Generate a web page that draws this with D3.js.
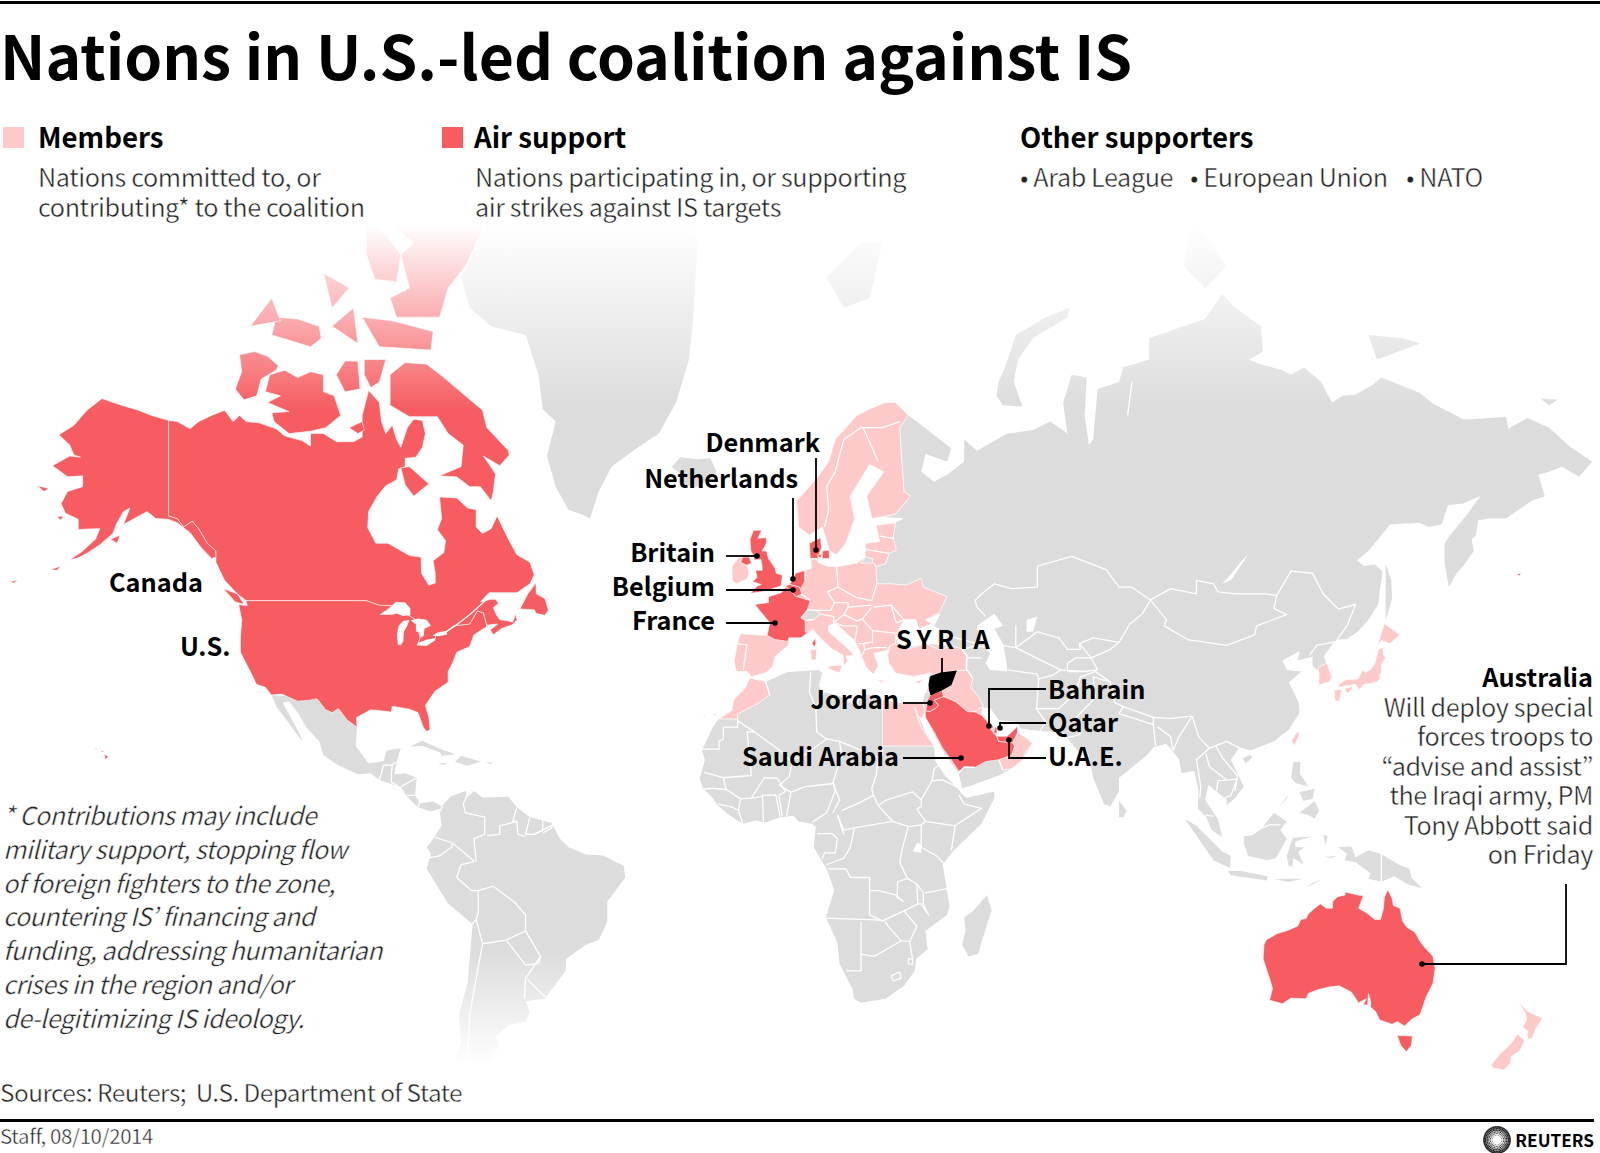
<!DOCTYPE html>
<html>
<head>
<meta charset="utf-8">
<script src="https://cdn.jsdelivr.net/npm/d3@7"></script>
<style>
  html, body { margin: 0; padding: 0; background: #fff; }
  svg { display: block; }
  text { font-family: "Noto Sans CJK JP", "Noto Sans", sans-serif; fill: #000; white-space: pre; }
  .b { font-weight: 700; }
  .l { font-weight: 400; fill: #222; stroke: #fff; stroke-width: 0.45px; }
</style>
</head>
<body>
<div id="chart"></div>
<script>
// outlines are lon/lat, projected below
var greenland = [[-73,78.5],[-66,81],[-55,82.5],[-35,83.5],[-22,82.5],[-18,80],[-19,76.5],[-20,74],[-23,71],[-27,68.5],[-33,67],[-38,65.5],[-41,63],[-43,60],[-45,60.5],[-48,61],[-51,63.5],[-53,66.5],[-51,69.5],[-54,70.5],[-55,73],[-58,75.5],[-66,76],[-71,77]];
var iceland = [[-24,65.5],[-22,66.4],[-18,66.2],[-15,66.3],[-13.6,65],[-15,64.3],[-18.5,63.4],[-22.5,63.9],[-22,64.8]];
var eurasia = [[31,70],[33,69.5],[41,67.2],[40,66],[35,66.7],[34,65],[37,64],[40,64.7],[44,66],[44,68],[47,67],[54,68.5],[60,68.8],[64,69.5],[68,68.5],[67,71],[69,73],[72.5,72.8],[72,70],[73,67.5],[74,68],[75,72],[80,72.5],[81,73.5],[87,74],[87,75.3],[95,76],[100,76.4],[104,77.7],[107,77],[113,76],[113.5,74.5],[109,73.8],[110,74],[113,73.7],[118,73.3],[120,73],[123,73.5],[127,72.5],[129.5,71],[132,71.5],[135,71.6],[139,72.3],[141,72.8],[150,71.7],[153,70.9],[160,69.7],[162,69.7],[170,69.9],[170.5,68.9],[175,69.8],[180,69],[185,67.3],[190,66],[187,64.5],[183,65.5],[180,65],[177.5,64.7],[179,62.5],[176,62],[172,60.7],[170,60],[166,60],[163.5,59.8],[163,58],[162,57.5],[162.5,56],[160,54],[158.5,53],[156.7,51],[155.7,54.5],[155.7,57],[157,58],[161,60.5],[164,62.5],[160,61.7],[156.5,61.5],[155,59.3],[152,59],[150,59.5],[143,59.3],[138,56],[135.3,54.7],[137,54],[139.5,54.2],[141.3,53.2],[140.5,50],[140.3,48.5],[138,46],[135.5,44],[133,42.8],[131,42.7],[130,42.3],[127.6,39.8],[129.5,36],[129,35],[126.5,34.5],[126.5,37],[125,38],[125,39.7],[121.5,39],[122,40.7],[118,39],[119,37.3],[122.5,37],[119.5,35],[121.8,31],[122,29],[119.5,25.5],[116,23],[110.5,21],[108,21.7],[106,19],[109,13],[107,10.4],[105,8.7],[105,10],[102.5,12],[100.8,13.4],[100,10],[103,5.5],[104,1.4],[101.5,3],[100.3,6],[98.3,8],[98.5,12],[97.5,16.5],[94.5,16],[94,19],[91,22.5],[88,21.7],[86.5,20],[82,16.5],[80,15],[80,12],[78,8.5],[76.5,9],[74,15],[73,20],[72.5,21],[70.5,20.8],[69,22.5],[67,24.8],[61.5,25.2],[57,25.7],[56.5,27],[52,27.5],[50,30],[48,30],[48,28.5],[50,26],[51,26],[51.6,24],[54,24],[56.4,26.3],[56.4,24.9],[59.8,22.5],[57.5,19],[55,17],[52,15.5],[45,13],[43.5,12.7],[42.7,16],[39,21],[35,28],[35,29.5],[34.3,31.3],[35.9,35],[36,36.8],[32,36],[28,36.7],[26.3,39.5],[29,41],[35,42],[41.5,41.5],[39,44],[37,45],[38.5,47],[35,46],[36,45.2],[33.5,44.5],[32.7,46],[30,46],[28,43],[29,41.2],[26,40.8],[23,40.3],[24,38],[22.8,36.5],[21,38],[19.5,41],[18.5,42.5],[14,45.5],[12.4,45],[12.5,44],[16,41.8],[18.4,40],[16.5,39.8],[17,39],[16,38],[15.8,40],[13,41.2],[10.5,43],[8.8,44.4],[6,43],[3.2,43],[3.2,41.8],[0,39.7],[-0.5,38],[-2,36.8],[-5.5,36],[-6.5,37],[-9,37],[-9.5,38.8],[-8.8,42],[-8,43.7],[-2,43.4],[-1.2,45.5],[-4.7,48.4],[-1.5,48.7],[-1.5,49.6],[1.5,50.2],[4,52],[4.8,53],[8.5,53.7],[8.3,55.5],[8,57],[10.6,57.7],[10.3,56],[10,54.5],[12,54],[14.3,53.9],[19,54.4],[21,55.2],[21,57],[24.3,57.2],[23.5,59.2],[28,59.5],[30,60],[25,60.2],[22.5,60],[21.3,62.5],[25.3,65],[22,65.7],[17.5,62.5],[18.5,60],[16.5,57],[14.3,55.5],[12.7,56],[11,59],[8,58],[5.5,59],[5,62],[7,63],[10,64.5],[12.5,66],[14,68],[16,68.8],[19,70],[22,70.5],[25.7,71],[28,71]];
var africa = [[-5.9,35.8],[-2,35.1],[3,36.9],[10,37.3],[11,36.8],[10.2,34.3],[11,33.2],[15,32.3],[19,30.3],[20,32.5],[23,32.6],[25,31.6],[29,31],[32,31.2],[32.5,30],[34,27],[35.5,24],[37,21.5],[37.3,18.7],[39.5,15.5],[43,12],[43.3,11.5],[44.5,10.4],[51,11.9],[51,10.4],[48,4.5],[41.5,-1.8],[39,-5],[39.5,-8],[40.6,-14.5],[40,-16.5],[35,-20],[35.5,-24],[32.8,-26],[32.5,-28.5],[30,-31.5],[25.7,-34],[20,-34.8],[18.4,-34],[18,-32],[15,-27],[14.5,-22.5],[11.8,-17],[13.8,-11],[12,-6],[9,-1],[9.5,3.8],[8.5,4.5],[5.5,5],[4.3,6.3],[1,5.9],[-2,4.8],[-4.5,5.2],[-7.5,4.4],[-11,6.7],[-13.3,8.7],[-15,11],[-16.7,12.5],[-17.5,14.7],[-16.3,19],[-17,21],[-14.5,26],[-13,27.8],[-10,29.5],[-9.7,31.5],[-6.8,34]];
var madagascar = [[49.3,-12],[50.4,-15.5],[49.5,-18],[47.2,-25],[45,-25.5],[43.5,-23],[44.3,-20],[44,-17],[46,-15.7],[48,-13.5]];
var southAmerica = [[-77.5,8.6],[-75.5,10.7],[-72,12],[-71.5,10.7],[-70,12],[-68,10.5],[-62,10.7],[-60,8.3],[-57,6],[-52,4.7],[-50,1],[-48,-1],[-44,-2.7],[-40,-2.9],[-35.2,-5.3],[-34.8,-8],[-39,-13.5],[-39,-18],[-41,-22],[-44,-23],[-48.5,-26],[-48.7,-28.5],[-53.5,-34],[-58,-34.5],[-57,-36.5],[-58,-38.3],[-62,-39],[-65,-41],[-64,-42.5],[-67,-46],[-66,-48],[-69,-51],[-68.5,-52.5],[-65.5,-55],[-70,-55.5],[-74,-52.5],[-75.5,-47],[-73,-42],[-73.5,-37],[-71.5,-31],[-70.3,-18.5],[-76,-14],[-81,-6],[-80,-2.5],[-81,-1],[-79.5,1],[-77.5,4],[-78,7.5]];
var mexicoCentral = [[-117.1,32.5],[-115.8,30],[-114,28],[-112,25.5],[-109.9,23],[-110.5,24.5],[-112,27],[-114.5,31],[-113,31.3],[-111,29],[-109,26],[-106,23],[-105,20],[-102,18],[-97,15.8],[-94,16],[-92,14.5],[-88,13.2],[-87,12.9],[-85.8,11],[-83,8.3],[-80,7.3],[-78,7.9],[-77.5,8.6],[-79.5,9.6],[-82.5,9.2],[-83.7,11],[-83.3,15],[-86,16],[-88.5,15.8],[-88,18.5],[-87,21.5],[-90.3,21],[-91,18.7],[-94.5,18.2],[-97.5,22],[-97.2,26],[-99.5,27.5],[-101.5,29.8],[-103,29],[-104.5,29.8],[-106.5,31.8]];
var cuba = [[-84.9,21.9],[-82,23.1],[-77,21],[-74.2,20.2],[-77.5,19.9],[-78,20.7],[-82,22]];
var hispaniola = [[-74.4,18.5],[-73,19.9],[-68.4,18.6],[-71.5,17.7]];
var jamaica = [[-78.3,18.4],[-76.3,18.1],[-77.2,17.8]];
var puertoRico = [[-67.2,18.5],[-65.7,18.4],[-66.2,18]];
var sumatra = [[95.3,5.6],[98,4],[104,-2],[106,-3],[105.8,-5.8],[102,-4],[98.5,1]];
var java = [[105.3,-6.5],[108.5,-6.5],[114.5,-7.7],[114.5,-8.7],[106,-7.5]];
var borneo = [[109,1.5],[111,1.8],[113,3.2],[116,7],[119,5],[117.5,3],[119,1],[116.5,-3.5],[114.5,-4],[110,-3],[109,0]];
var sulawesi = [[119.8,-0.5],[120.5,1.2],[125,1.5],[121,0.4],[121,-1],[123.3,-1],[121.7,-2],[122.8,-5],[120.5,-3.5],[120.3,-5.5],[119.4,-5.3],[119,-3]];
var newGuinea = [[131,-1],[134,-0.8],[135,-3.3],[138,-1.7],[141,-2.6],[145,-5],[147.5,-6],[148,-8],[150.5,-10.5],[147,-9.5],[144,-7.7],[141,-9],[138,-8.3],[138.5,-7],[135,-4.5],[132.5,-4],[133,-2.5]];
var luzon = [[120.5,18.5],[122.2,18.5],[122,16],[124,13],[121,13.8],[120,15]];
var mindanao = [[122,7],[125.5,9.7],[126.5,7.5],[125.5,5.7],[124,6.5]];
var palawan = [[117.2,8.4],[119.5,11.3],[119,10.3]];
var visayas = [[122,11.8],[125.5,12.5],[125,10.2],[122.8,9.8]];
var lesserSunda = [[116,-8.4],[119,-8.3],[123,-8.3],[119.5,-9]];
var timor = [[123.6,-10.3],[127.2,-8.4],[125,-9.2]];
var halmahera = [[127.5,2],[128.5,1.5],[128,-0.5]];
var seram = [[127.8,-3.2],[130.8,-3],[129.5,-3.5]];
var sriLanka = [[80,9.7],[81.8,7.5],[81,6],[80,6]];
var hainan = [[108.7,19.3],[110.5,20.1],[111,19.5],[109.5,18.2]];
var sakhalin = [[142,54.3],[143.3,52],[143.5,49.3],[142.5,47],[142,46],[142,50]];
var novayaZemlya = [[51.5,71.5],[53,70.8],[57.5,70.7],[55.5,72.5],[56.5,74],[60,75.3],[68,76.5],[68.5,77],[63,76.5],[56,75.5],[53.5,73.5],[52,72.5]];
var severnaya = [[95,79],[100,78],[105,79],[97,81]];
var newSiberian = [[138,75.5],[146,75.3],[150,75],[140,74]];
var wrangel = [[178,71.3],[182,71.2],[180,70.8]];
var svalbard = [[12,78.5],[20,80],[25,80],[22,77.5],[16,77]];
var switzerland = [[6,46.3],[7.5,47.6],[9.5,47.6],[10.5,46.9],[9,46],[7,45.9]];
var kaliningrad = [[20,54.4],[22.7,54.4],[22.7,55],[21,55.2]];

var caspian = [[47,45],[51,47],[53,45],[51,44.5],[53,42],[53.8,39],[54,37],[50,37.3],[49,38.5],[50,40.3],[48,42.5],[47,44.5]];
var aral = [[58.5,46],[61,46.5],[60,44],[58.5,44]];
var baikal = [[104,51.5],[106,52],[110,55.5],[109,55],[105.5,52.5]];
var victoria = [[32,-2],[33,0],[34,-0.3],[34,-2.2]];
var superior = [[-92,46.8],[-90,47.7],[-88.2,48.8],[-86,48.7],[-84.8,47.8],[-84.8,46.7],[-86.5,46.6],[-88,47],[-89,46.8]];
var michigan = [[-87.7,41.8],[-87.9,43.5],[-87.5,45],[-86.5,45.8],[-85,46],[-85.5,45],[-86.3,44],[-86.4,42.5],[-87,41.7]];
var huron = [[-84.7,45.9],[-83,46.2],[-81,46],[-80,45],[-81.5,44.5],[-81.7,43.3],[-82.4,43],[-82.7,44],[-83.5,44],[-83.5,45.2]];
var erie = [[-83.4,41.7],[-83,42.1],[-81,42.7],[-79,42.9],[-79,42.6],[-81,41.6]];
var ontario = [[-79.7,43.3],[-78.5,43.9],[-76.3,44.2],[-76.3,43.5],[-78,43.3]];

// members
var europeMain = [[28,59.5],[27.5,57.8],[28.2,56.1],[26.6,55.7],[25.7,54.3],[23.5,53.9],[23.6,52],[23.7,51.5],[27,51.5],[30.5,51.3],[34,52.3],[34.5,51],[40,49.6],[38.2,47.1],[35,46],[36.5,45.3],[33.5,44.5],[32.7,46],[30,46],[28,43.5],[28,42],[26.7,41.6],[26,40.8],[23,40.3],[24,38],[22.8,36.5],[21,38],[19.5,41],[18.5,42.5],[14,45.5],[12.4,45],[12.5,44],[16,41.8],[18.4,40],[16.5,39.8],[17,39],[16,38],[15.8,40],[13,41.2],[10.5,43],[8.8,44.4],[6,43],[3.2,43],[3.2,41.8],[0,39.7],[-0.5,38],[-2,36.8],[-5.5,36],[-6.5,37],[-9,37],[-9.5,38.8],[-8.8,42],[-8,43.7],[-2,43.4],[-1.2,45.5],[-4.7,48.4],[-1.5,48.7],[-1.5,49.6],[1.5,50.2],[4,52],[4.8,53],[8.5,53.7],[8.3,55],[9.5,55],[10,54.5],[12,54],[14.3,53.9],[19,54.4],[21,55.2],[21,57],[24.3,57.2],[23.5,59.2]];
var fennoscandia = [[31,70],[29,69],[29.5,66],[30,63],[31.5,62.5],[28,60.5],[25,60.2],[22.5,60],[21.3,62.5],[25.3,65],[22,65.7],[17.5,62.5],[18.5,60],[16.5,57],[14.3,55.5],[12.7,56],[11,59],[8,58],[5.5,59],[5,62],[7,63],[10,64.5],[12.5,66],[14,68],[16,68.8],[19,70],[22,70.5],[25.7,71],[28,71]];
var ireland = [[-10,52],[-10,54],[-8.3,55.2],[-7.5,55.2],[-8,54.5],[-6.5,54.1],[-6,53],[-6.5,52.2],[-9,51.5]];
var sardinia = [[8.2,41],[9.7,41],[9.6,39.2],[8.5,39]];
var sicily = [[12.5,38],[15.6,38.2],[15,36.7],[12.5,37.5]];
var crete = [[23.6,35.5],[26.3,35.2],[24.5,35]];
var cyprus = [[32.4,35],[34.5,35.6],[33.5,34.7]];
var turkey = [[26.2,40],[26.7,41.6],[28,42],[29.2,41.2],[31.5,41.2],[35,42],[38,41],[41.5,41.5],[43.5,41.1],[44.8,39.7],[44.5,37.2],[42.3,37.2],[38.5,36.8],[36.7,36.3],[36,36.8],[35,36.5],[32.5,36.1],[30.5,36.3],[28,36.7],[26.5,38.5]];
var iraq = [[38.8,33.4],[41,34.4],[41.3,35],[42.3,37.2],[44.8,37.2],[46,35.7],[45.5,34],[47.5,32],[48.5,30],[48,30],[46.5,29.1],[44.7,29.2],[42,31.2],[39.2,32.2]];
var kuwait = [[46.5,29.1],[48,28.5],[48.3,29.8],[47.7,30]];
var lebanon = [[35.1,33.1],[36,34.6],[36.5,34],[35.7,33]];
var egypt = [[25,31.6],[29,31],[32,31.2],[34.2,31.3],[34.9,29.5],[34.3,27.8],[33.5,28],[32.5,30],[33,28.3],[34,26],[35.5,24],[37,22],[25,22]];
var morocco = [[-5.9,35.8],[-2.2,35.1],[-1.2,32.5],[-3.7,31],[-8.7,28.7],[-8.7,27.7],[-13,27.7],[-10,29.5],[-9.7,31.5],[-6.8,34]];
var canaries = [[-16.8,28.4],[-16.1,28.5],[-16.5,28]];
var canaries2 = [[-14.2,28.6],[-13.5,29.1],[-13.8,28.2]];
var oman = [[56.4,24.9],[58.7,23.6],[59.8,22.5],[58,20.4],[57.7,19],[55,17],[53,16.7],[52,19],[55,20],[55.7,22],[55.2,22.7],[56,24.1]];
var southKorea = [[126.2,37.7],[128.4,38.6],[129.4,36],[129,35.1],[126.4,34.4],[126.5,36.5]];
var honshu = [[141.4,41.4],[141.5,40],[142,39.5],[141,38.2],[141,37],[140.6,36],[140.9,35.7],[139.8,35],[138.5,34.7],[137,34.6],[136.8,34.4],[135.8,33.5],[135,34.6],[133,34.3],[131,34],[131,34.4],[132.7,35.5],[135.5,35.6],[136.8,37.3],[137.3,36.8],[138.5,37.4],[139.5,38.5],[140,40],[140.3,41]];
var hokkaido = [[140,41.5],[141.7,45.4],[145.3,43.5],[143,42],[141,42.5]];
var kyushu = [[130,33.5],[131.8,33.6],[131.2,31.3],[130.2,31.4]];
var shikoku = [[132.5,33.8],[134.5,34.2],[134,33.4],[133,32.8]];
var taiwan = [[121.5,25.2],[122,24.5],[120.8,22],[120.1,23.2]];
var nzNorth = [[172.7,-34.4],[174.5,-36],[175.8,-36.7],[178.5,-37.7],[177,-39.5],[176,-41.3],[175,-41.5],[175,-40],[173.8,-39.3],[174.8,-38],[174.5,-36.8]];
var nzSouth = [[172.7,-40.5],[174.3,-41.7],[173.2,-43.5],[171.3,-44.3],[171,-45.5],[169.5,-46.6],[167,-46.3],[166.5,-45.8],[168.5,-44],[171,-42.3]];

// air support
var alaska = [[-141,69.6],[-145,70],[-148,70.4],[-152,70.8],[-156.5,71.3],[-160,70.4],[-163,69.2],[-166.5,68.4],[-164,67.5],[-163,66.6],[-161.5,66.4],[-164,66.5],[-168,65.6],[-164.5,64.5],[-161,64.6],[-161,63.5],[-164.5,63],[-166,61.7],[-165,60.6],[-162,59.9],[-162,58.7],[-158,58.8],[-157,58.8],[-158,57.5],[-161,56],[-164,54.8],[-162,55.1],[-160,55.7],[-157,56.8],[-154,58.2],[-153,59.5],[-151.5,60.8],[-150,61.2],[-151.5,59.3],[-149,60],[-146,60.8],[-144,60],[-141,59.9],[-139,59.5],[-136,58.3],[-133.5,56.5],[-131,55],[-130,55.2],[-130,56],[-132,57],[-134,58.8],[-135.5,59.7],[-137.5,59],[-139,60],[-141,60.3]];
var conus = [[-123,49],[-122.7,48.2],[-124.7,48.4],[-124,46],[-124.3,43],[-124.3,40.5],[-123,38.5],[-122,37],[-120.6,34.6],[-118.5,34],[-117.1,32.5],[-114.7,32.7],[-111,31.3],[-108.2,31.5],[-106.5,31.8],[-104.5,29.6],[-103,29],[-101.5,29.8],[-99.5,27.5],[-97.2,26],[-97.3,28],[-94,29.6],[-91,29.3],[-89.2,29.1],[-89,30.3],[-85,29.7],[-83,29],[-81.8,26],[-81,25.1],[-80.2,25.5],[-80.5,28],[-81.3,30.5],[-79,33.3],[-76,35],[-76,37],[-75,38.5],[-74,40.5],[-71,41.5],[-70,43.5],[-67,44.9],[-67.8,47.1],[-69.2,47.4],[-71,45.3],[-74.7,45],[-76.5,44],[-79,43.3],[-79,42.9],[-83,42],[-82.5,43],[-83.5,46],[-84.7,46.5],[-88.5,48.2],[-92,48.3],[-95,49]];
var canadaMain = [[-141,69.6],[-139,69.5],[-136,68.9],[-134,69.5],[-131,70],[-128,70.4],[-126,69.5],[-124.5,70],[-123,69.5],[-120,69.4],[-116,68.9],[-114,68.3],[-110,67.9],[-108,67.4],[-108,68.5],[-105,68.5],[-102,67.8],[-98,67.8],[-96,68.2],[-96,70],[-94.5,71.9],[-92,71],[-91.5,69.5],[-90.5,68.5],[-89,69.2],[-88,68],[-87,67.3],[-85.5,69],[-84,69.7],[-82,69.6],[-81.3,68.5],[-82,67.3],[-83.5,66.4],[-86,66.3],[-86,65.5],[-87.5,65.3],[-88,64.2],[-90.5,63.6],[-92.5,62.5],[-94.5,60.8],[-94.7,58.9],[-92.8,57],[-90,57],[-85,55.4],[-82.3,55.2],[-82.2,53],[-80.5,51.3],[-79,51.6],[-79,53],[-79.5,54.7],[-77,55.8],[-76.6,57.3],[-78.5,58.7],[-77.5,60],[-78,62.4],[-74,62.3],[-71.5,61.2],[-69.5,61],[-69.5,59],[-68,58.2],[-66,58.8],[-64.6,60.3],[-62,57.5],[-60,55.5],[-57,54.5],[-56,52.8],[-57,51.5],[-60,50.2],[-66.5,50.2],[-68.5,48.8],[-66,49.2],[-65,49.2],[-64.3,48.6],[-65.5,47.9],[-64.8,46.8],[-64,46],[-62,45.8],[-61,45.6],[-60.3,46.9],[-60,46],[-61,45.2],[-63.5,44.6],[-65.5,43.5],[-66.2,44.3],[-64.5,45.3],[-66,45.2],[-67,45.1],[-67.8,47.1],[-69.2,47.4],[-71,45.3],[-74.7,45],[-76.5,44],[-79,43.3],[-79,42.9],[-83,42],[-82.5,43],[-83.5,46],[-84.7,46.5],[-88.5,48.2],[-92,48.3],[-95,49],[-123,49],[-125,50],[-128,52],[-130,54.5],[-130,55.2],[-130,56],[-132,57],[-134,58.8],[-135.5,59.7],[-137.5,59],[-139,60],[-141,60.3]];
var newfoundland = [[-59.3,47.7],[-57.5,50],[-55.6,51.6],[-55.5,50],[-53.5,49.3],[-52.7,47.5],[-53.5,46.7],[-55.5,47],[-56,47.6]];
var vancouverIs = [[-128.3,50.8],[-125,50],[-123.4,48.4],[-125.5,48.8]];
var baffin = [[-61.8,66.6],[-64,65.6],[-67.8,66.5],[-65,64.8],[-65.5,63],[-66,62],[-68.5,63.5],[-71,63.5],[-74,64.5],[-78,64.6],[-73,65.5],[-72.5,67.5],[-76,68.5],[-78.5,69.9],[-85,69.9],[-89.5,70.8],[-89.5,73],[-86,73.8],[-81,73.7],[-77,72.8],[-72,71.5],[-68,70.4],[-67,69],[-62,67]];
var southampton = [[-87,65.4],[-85,65.5],[-80.5,63.8],[-84,62.5],[-86,63.7]];
var kingWilliam = [[-99,69],[-96,69.5],[-95.5,68.8],[-97,68.5]];
var victoriaIs = [[-117.5,73],[-114,73.3],[-111,72.8],[-108,73.2],[-105,73],[-105,71.8],[-102.5,71.5],[-101,70],[-104.5,69],[-108,68.7],[-113,68.5],[-116.5,69.5],[-117,70.2],[-113,70.3],[-118,71],[-115,71.5],[-118.5,71.8]];
var banks = [[-125.5,72],[-123.5,71.2],[-120.5,71.5],[-119.5,72.7],[-116,73.3],[-115.5,73.6],[-118,74.2],[-121,74.5],[-124.5,74.3],[-124,73.2]];
var princeOfWales = [[-102,73],[-100,73.9],[-97,73.9],[-96.5,72],[-100,71.8]];
var somerset = [[-95.5,74],[-90.5,74],[-92,72.5],[-94,72.1],[-95.5,73]];
var melville = [[-117,75.5],[-108,74.8],[-105.5,75.3],[-106,76],[-111,76.4],[-116,76.5]];
var devon = [[-96,76.5],[-92,74.8],[-80,74.6],[-79.5,75.7],[-89,76.3]];
var ellesmere = [[-92,81.5],[-85,82.4],[-75,83.1],[-62,82.4],[-68,80.5],[-72,79],[-76,78],[-78,76.5],[-88,76.5],[-89.5,77.5],[-85,78],[-87,79.5],[-84,80],[-90,80.8]];
var axelHeiberg = [[-95,81],[-90,80.2],[-87,79.5],[-88,78.3],[-93,78.4],[-95,79.5]];
var princePatrick = [[-122,76],[-117,77.5],[-115,76.3]];
var bathurst = [[-103,76],[-97,75],[-98,77]];
var ringnes = [[-105,78.7],[-99,78],[-103,77]];
var kodiak = [[-154.5,57.5],[-152.3,58],[-153,57]];
var nunivak = [[-167,60.2],[-165.5,60.3],[-166,59.8]];
var stLawrenceIs = [[-171.5,63.6],[-168.8,63.3],[-170,63]];
var aleutianA = [[-168.5,53.5],[-166,54],[-167,53.4]];
var aleutianB = [[-178,51.8],[-176,52],[-177,51.6]];
var attu = [[172.5,52.9],[173.5,53],[173,52.6]];
var hawaiiBig = [[-156,20.2],[-155,19.7],[-155.7,19]];
var hawaiiMaui = [[-156.7,21],[-156,20.8],[-156.4,20.6]];
var hawaiiOahu = [[-158.2,21.6],[-157.7,21.4],[-158,21.3]];
var britain = [[-5.7,50.1],[-3.5,50.3],[-1,50.7],[1.4,51.2],[1.7,52.7],[0.3,53],[0,53.7],[-1.5,55],[-2,56],[-3,56],[-2,57],[-2,57.7],[-4,57.6],[-3.1,58.6],[-5,58.6],[-5.8,57.5],[-5.6,56],[-5,55.4],[-4.8,54.8],[-3.3,54.9],[-3,54],[-3,53.4],[-4.5,53.4],[-4.2,52.4],[-5.2,51.8],[-3.2,51.4],[-4.3,51.1]];
var northernIreland = [[-8,54.5],[-7.5,55.2],[-6,55.2],[-5.5,54.4],[-6.5,54.1]];
var france = [[-1.8,43.4],[-1.2,45.5],[-4.7,48.4],[-1.5,48.7],[-1.5,49.6],[1.5,50.2],[2.5,51],[5,49.6],[8.2,49],[7.5,47.6],[6,46.3],[7,45.9],[7,44],[7.5,43.8],[6,43],[3.2,43],[3,42.4],[0,42.7]];
var corsica = [[9.4,43],[9.5,42],[9.2,41.4],[8.6,42]];
var netherlands = [[3.4,51.4],[4,52],[4.8,53],[7,53.4],[7,52],[6,50.8],[5.7,51]];
var belgium = [[2.5,51.1],[3.4,51.4],[5.7,51],[6.2,50],[5,49.6]];
var jutland = [[8.2,55],[8,57],[10.6,57.7],[10.8,56.3],[9.8,55]];
var funen = [[9.8,55.5],[10.8,55.6],[10.6,55]];
var zealand = [[11,56],[12.6,56.1],[12.6,55],[11,55]];
var saudi = [[34.9,29.4],[36,29.2],[37.5,30],[38,30.5],[37,31.5],[39.2,32.2],[42,31.2],[44.7,29.2],[46.5,29.1],[48,28.5],[49.5,27],[50.2,25.5],[50.8,24.8],[51.6,24],[52,23],[55.2,22.7],[55.7,22],[55,20],[52,19],[49,18.6],[46.5,17.3],[44,17.4],[43.2,16.7],[42.7,16.5],[41,19],[39,21.5],[37,25],[35,28]];
var jordan = [[35,29.4],[36,29.2],[37.5,30],[38,30.5],[37,31.5],[39.2,32.2],[38.8,33.4],[36,32.4],[35.5,31.5]];
var bahrain = [[50.3,26.3],[50.7,26.3],[50.7,25.7],[50.3,25.7]];
var qatar = [[50.8,24.7],[51.2,26.1],[51.6,25.8],[51.6,24.7]];
var uae = [[51.6,24.1],[54,24.1],[56,25.8],[56.4,26.3],[56.4,24.9],[56,24.1],[55.2,22.7],[52,23]];
var australia = [[142.5,-10.8],[143.5,-12.8],[143.8,-14.4],[145.3,-15],[146,-18],[147,-19.3],[148.8,-20.3],[150,-22.3],[151,-23.5],[153,-25.5],[153.5,-28],[153,-31],[151.5,-33.5],[150,-37],[148,-37.9],[146.4,-39.1],[144.7,-38.3],[143.5,-38.8],[140.6,-38],[139.7,-36.5],[138.5,-35.6],[138.5,-34.5],[138,-33],[137.8,-35.2],[136.8,-35.2],[137.5,-34],[135.7,-34.8],[134,-32.7],[131.2,-31.5],[129,-31.7],[126,-32.3],[124,-33],[123.5,-34],[120,-33.9],[118,-35],[115,-34.3],[115.7,-32],[115,-30],[113.5,-26],[113.7,-23],[114.2,-22],[116.8,-20.6],[119,-20],[121.5,-19],[122.3,-17.5],[123.5,-17.3],[124,-16.3],[125.5,-15],[126.8,-14],[128.2,-15],[129.6,-15],[129.7,-13.5],[130.8,-12.4],[132.6,-12],[132.5,-11.3],[135.5,-12],[136.8,-12.2],[135.7,-15],[137.5,-16],[139.5,-17.5],[140.8,-17.5],[141.5,-15],[141.7,-12.5]];
var tasmania = [[144.7,-40.8],[148.2,-40.9],[148,-42.5],[146.8,-43.6],[145.5,-42.5]];

var syria = [[35.7,34.6],[36,36],[36.7,36.3],[38.5,36.8],[42.3,37.2],[41.3,35],[41,34.4],[38.8,33.4],[36.2,32.4],[35.8,33.5]];

var greyLand = [greenland, iceland, eurasia, africa, madagascar, southAmerica, mexicoCentral, cuba, hispaniola, jamaica, puertoRico, sumatra, java, borneo, sulawesi, newGuinea, luzon, mindanao, palawan, visayas, lesserSunda, timor, halmahera, seram, sriLanka, hainan, sakhalin, novayaZemlya, severnaya, newSiberian, wrangel, svalbard];
var greyOverPink = [switzerland, kaliningrad];
var lakes = [caspian, aral, baikal, victoria];
var greatLakes = [superior, michigan, huron, erie, ontario];
var members = [europeMain, fennoscandia, ireland, sardinia, sicily, crete, cyprus, turkey, iraq, kuwait, lebanon, egypt, morocco, canaries, canaries2, oman, southKorea, honshu, hokkaido, kyushu, shikoku, taiwan, nzNorth, nzSouth];
var airSupport = [alaska, conus, canadaMain, newfoundland, vancouverIs, baffin, southampton, kingWilliam, victoriaIs, banks, princeOfWales, somerset, melville, devon, ellesmere, axelHeiberg, princePatrick, bathurst, ringnes, kodiak, nunivak, stLawrenceIs, aleutianA, aleutianB, attu, hawaiiBig, hawaiiMaui, hawaiiOahu, britain, northernIreland, france, corsica, netherlands, belgium, jutland, funen, zealand, saudi, jordan, bahrain, qatar, uae, australia, tasmania];

var borders = [
  // africa
  [[-17,21.3],[-13,21.3],[-13,23],[-12,23.5],[-12,26],[-8.7,26],[-8.7,27.7]],
  [[-8.7,27.3],[-4.8,25],[-6.5,25],[-5.5,15.5],[-12,15],[-16.5,16.2]],
  [[-4.8,25],[1.2,21],[3.3,19],[4.2,19.2],[6,19.5],[12,23.5],[9.7,25],[9.5,30],[8,33],[8.3,36.9]],
  [[9.5,30],[11.5,33.2]],
  [[-1.2,32.5],[-2.2,35.1]],
  [[12,23.5],[15,23],[24,19.5],[25,20],[25,22]],
  [[15,23],[15.5,20],[13.5,14],[14,12.5],[15,10],[13.5,7]],
  [[24,19.5],[23.5,15.5],[22.5,12.5],[22.9,11],[19,9],[15.5,7.5]],
  [[24,8.7],[26,10],[32,11.8],[34,10]],
  [[14.5,6.5],[16,3],[18.5,3.5],[22.5,4.2],[27.4,5],[24,8.7],[22.9,11]],
  [[38.5,18],[37,17],[36.5,14.3],[39,14.5],[42.5,12.8]],
  [[36.5,14.3],[34,10],[34,8.5],[33,7.8],[35,5],[41.9,4],[43,4.8],[48,8],[44,9],[42.8,11]],
  [[27.4,5],[31,3.8],[34,4.2],[35,5]],
  [[41.9,4],[41,-1.7]],
  [[34,4.2],[34,0],[34,-1],[37.6,-3],[39.2,-4.7]],
  [[31,3.8],[29.6,-1.3],[29,-4.5],[30.8,-8.2],[28.5,-9],[28.4,-12.5],[29.8,-13.4],[28,-12],[24,-11],[22,-11],[22,-8],[17.5,-8],[16.5,-6],[12.3,-6]],
  [[18.5,3.5],[17.5,-1],[16,-3.5],[12.8,-4.7],[12,-5]],
  [[9.8,2.2],[13.3,2.2],[14.5,1],[14,-2.3],[11.5,-2.3],[11,-3.7]],
  [[16,2],[14.5,6.5]],
  [[2.7,6.3],[3.7,11.7],[7,13],[13.6,13.7],[14,12],[12,7],[8.6,4.8]],
  [[3.7,11.7],[1,13.3],[3.3,15.3],[4.2,19.2]],
  [[-12,15],[-11.4,12.4],[-8,10.2],[-5.5,10.4],[-3,10.7]],
  [[-5.5,10.4],[-2.5,15],[0.5,14.9],[2.4,11.9],[0.9,11]],
  [[-2.7,5],[-2.9,11],[0.2,11.1],[1.2,6]],
  [[0.9,11],[1.7,6.2]],
  [[-13.2,9],[-10.5,8.5],[-8.5,7.6],[-7.5,4.4]],
  [[-8.5,7.6],[-8,10.2]],
  [[-14.8,12.6],[-11.4,12.4]],
  [[-16.7,12.4],[-14.8,12.6]],
  [[11.8,-17.2],[23.3,-17.6],[25,-17.8]],
  [[22,-11],[22,-16.5],[25,-17.8],[30,-15.6],[33.2,-14],[33,-9.5],[30.8,-8.2]],
  [[20,-18],[20,-22],[20,-28.5],[16.5,-28.5]],
  [[20,-25],[23,-25.5],[29.3,-22.2],[25.5,-18]],
  [[30,-15.6],[33,-19],[31.3,-22.3],[29.3,-22.2]],
  [[31.3,-22.3],[32,-26]],
  [[33,-9.5],[34.5,-11.5],[34.5,-14],[35.7,-16.5],[34,-14],[33.2,-14]],
  [[34.9,-11.5],[40.5,-10.5]],
  [[27,-29.5],[29,-28.7],[29.3,-30],[27.5,-30.5],[27,-29.5]],
  [[31,-26],[32,-26],[32,-27.2],[31,-27],[31,-26]],
  // south america
  [[-71.3,11.8],[-72.5,9],[-72,7],[-67.5,6],[-67.5,2],[-70,1],[-69.5,-4.3]],
  [[-60,8.3],[-61,5],[-60,5],[-64,4],[-64,2],[-67,1.7]],
  [[-69.9,-4.3],[-73,-5],[-74,-8],[-70.6,-11],[-69,-11],[-65.5,-10],[-60.5,-13.7],[-58,-16.5],[-58,-20]],
  [[-58,-20],[-62.5,-22],[-58,-27.3],[-55,-27],[-54.5,-25.5],[-55.5,-24],[-58,-20]],
  [[-69,-11],[-69,-16],[-69.5,-17.5],[-68,-22.8],[-62.5,-22]],
  [[-70.3,-18.5],[-69.5,-17.5]],
  [[-68,-22.8],[-69.5,-30],[-71,-37],[-71.5,-45],[-72,-50],[-69,-52]],
  [[-58.3,-34],[-58,-30],[-54.5,-25.5]],
  [[-57.6,-30.2],[-53.4,-33.7]],
  [[-79,1.3],[-75,0],[-75.2,-1],[-78,-3],[-80.3,-3.4]],
  [[-75,0],[-70,-4.2]],
  [[-57,6],[-58,2],[-56,2],[-54,3],[-54,5.8]],
  [[-54,2.3],[-52,3.5],[-51.7,4.2]],
  [[-60,5],[-59.8,2],[-58,1.5]],
  [[-56,2],[-51.7,4.2]],
  // central america
  [[-92,14.5],[-91,17.8],[-89,17.8],[-88.2,18.5]],
  [[-89,17.8],[-89.2,15.9]],
  [[-89.2,15.9],[-89.2,14],[-87.7,13.2]],
  [[-87,13],[-83.3,15]],
  [[-85.7,11],[-83.7,11]],
  [[-83,8.3],[-82.7,9.5]],
  [[-77.3,8.6],[-77.8,7.3]],
  // asia
  [[49,46.5],[47,48],[46.5,49],[48,50],[51,51.5],[55,50.8],[61,51],[61,54],[69,55.3],[77,53.5],[80,51],[83,51],[87.3,49.1]],
  [[87.3,49.1],[92,50.8],[98,50],[98,52],[102,51.5],[103,50.3],[107,50],[114,50],[116.7,49.8]],
  [[87.3,49.1],[91,46],[90.5,45],[96,42.7],[105,41.7],[111.5,43.5],[112,45],[119,46.8],[116,47.8],[116.7,49.8]],
  [[116.7,49.8],[120,53.3],[125,53],[127.5,50],[131,47.7],[135,48.4],[133,45],[131,43],[130.6,42.4]],
  [[130.6,42.4],[126,41.7],[124.3,40]],
  [[87.3,49.1],[85.5,47],[82.5,45.3],[80,42.2],[74,43],[70.8,42],[73.5,39.5],[78,41],[80,42.2]],
  [[73.5,39.5],[75,37.3],[71.5,37],[68,37],[68,38.5],[70,39.5],[73.5,39.5]],
  [[56,45],[56,41.3],[61,44],[66,43],[68,41],[71,41],[70.8,42]],
  [[52.8,41.7],[56,41.3],[62,39],[66.5,37.3]],
  [[54,37.3],[61,36.5],[61.3,35.6],[64.5,36.3],[66.5,37.3],[71.5,37]],
  [[61.3,35.6],[61,31.5],[60.8,29.8],[66,29.8],[70,33],[71,36],[74.5,37]],
  [[60.8,29.8],[63,27],[61.6,25.2]],
  [[68,23.8],[71,24.5],[70,28],[74.5,32],[74,36],[78,35],[79,31],[81,30.2],[88,28],[92,27.8],[97,28.3]],
  [[74.5,37],[78,35]],
  [[81,30.2],[80,28.8],[88,26.5],[88,28]],
  [[88,26.5],[88.5,22]],
  [[89,26],[92,24],[92.5,21]],
  [[97,28.3],[94,24],[92.5,21]],
  [[97,28.3],[98.5,24],[101,21.5],[105,23],[108,21.6]],
  [[101,21.5],[98,19],[99,13],[98.8,10.5]],
  [[100.2,20.4],[101,17.5],[105,14.5]],
  [[102.5,22],[104,19.5],[107.5,15.5],[107,12]],
  [[102.7,12],[103,14.3],[107.5,14.7],[106,11],[104.5,10.4]],
  [[100.2,6.5],[102,6.2]],
  [[44.5,39.7],[44.5,37.5],[46,35.7]],
  [[39.5,43.5],[47,42]],
  [[43.5,41],[46,41.5],[49,41.5]],
  [[43.5,41],[45,39.5],[48,39.5]],
  [[52,19],[53,16.7]],
  [[42.7,16],[44,17.4],[46.5,17.3]],
  [[109.6,2],[115,4.2],[117.5,4.2]],
  [[141,-2.6],[141,-9]],
  // europe
  [[11.5,59],[12.5,61],[12,63.5],[14,65],[16,68],[20,69],[25,69],[29,69.5]],
  [[20.5,69],[24,66]],
  [[24.4,57.9],[27.5,57.6]],
  [[21,56.2],[26.6,55.7]],
  [[23,54.4],[23.5,53.9]],
  [[14.3,53.9],[14.7,51],[18.8,49.5],[22.5,49],[23.7,51.5]],
  [[12.2,50.3],[14.7,51]],
  [[12.2,50.3],[13.8,48.7],[17,48.7]],
  [[7.5,47.6],[9.6,47.5],[13,47.5],[13.8,48.7]],
  [[17,48],[22.5,48.3]],
  [[17,48.7],[17,48],[16,46.8],[13.6,45.5]],
  [[10.5,46.9],[13.7,46.5],[13.6,45.6]],
  [[7,45.9],[9,46]],
  [[16,46.8],[19,45.8],[20.3,46.1],[22.5,48]],
  [[20.3,46.1],[22.7,44.2],[28,43.8]],
  [[22.9,48],[27,48.3],[30,46],[28.2,45.5]],
  [[27,48.3],[28.2,45.5]],
  [[22.7,44.2],[22.7,42.3],[20.6,42],[20.9,40.9],[22.7,41.3],[26,41.3]],
  [[19.4,42],[20.6,42]],
  [[20.9,40.9],[20,39.7]],
  [[15.8,45],[19,45],[19,44],[18.5,42.5]],
  [[15.8,45],[14,45.5]],
  [[-8.9,42],[-6.5,41.8],[-7,39.5],[-7.4,37.2]],
  [[7,52],[7,53.4]],
  [[8.3,55],[9.5,55]],
  [[6.2,50],[8.2,49]]
];
var stLawrence = [[-76.5,44],[-74,45.2],[-71,46.8],[-69,48],[-66.5,49.5]];
var yeniseiGulf = [[82,70],[83,72.5]];

// text
var titleText = "Nations in U.S.-led coalition against IS";
var memberLines = ["Nations committed to, or", "contributing* to the coalition"];
var airLines = ["Nations participating in, or supporting", "air strikes against IS targets"];
var otherItems = ["Arab League", "European Union", "NATO"];
var noteLines = ["* Contributions may include", "military support, stopping flow", "of foreign fighters to the zone,", "countering IS\u2019 financing and", "funding, addressing humanitarian", "crises in the region and/or", "de-legitimizing IS ideology."];
var ausLines = ["Will deploy special", "forces troops to", "\u201Cadvise and assist\u201D", "the Iraqi army, PM", "Tony Abbott said", "on Friday"];

var width = 1600, height = 1153;
var red = "#f65c60", pink = "#fdc9c9", grey = "#dcdcdc";

var svg = d3.select("#chart").append("svg")
  .attr("width", width)
  .attr("height", height);

// mercator, x and y kept as plain scales so Chukotka can run past 180
var rad = Math.PI / 180;
var mapX = d3.scaleLinear().domain([0, 1]).range([775, 775 + 246.4]);
var mapY = d3.scaleLinear().domain([0, 1]).range([843, 843 - 246.4]);
var line = d3.line()
  .x(function(d) { return mapX(d3.geoMercatorRaw(d[0] * rad, d[1] * rad)[0]); })
  .y(function(d) { return mapY(d3.geoMercatorRaw(d[0] * rad, d[1] * rad)[1]); });

function drawShapes(list, fill, stroke, sw) {
  svg.append("g").selectAll("path")
    .data(list)
    .enter().append("path")
    .attr("d", function(d) { return line(d) + "Z"; })
    .attr("fill", fill)
    .attr("stroke", stroke)
    .attr("stroke-width", sw)
    .attr("stroke-linejoin", "round");
}

drawShapes(greyLand, grey, "none", 0);
drawShapes(lakes, "#fff", "none", 0);
drawShapes(members, pink, "#fff", 0.8);
drawShapes(greyOverPink, grey, "#fff", 0.8);
drawShapes(airSupport, red, "#fff", 0.6);
drawShapes(greatLakes, "#fff", "none", 0);
drawShapes([syria], "#000", "none", 0);

svg.append("g").selectAll("path")
  .data(borders.concat([stLawrence, yeniseiGulf]))
  .enter().append("path")
  .attr("d", line)
  .attr("fill", "none")
  .attr("stroke", "#fff")
  .attr("stroke-width", 1.3)
  .attr("stroke-linejoin", "round");

// fade the map out at the top and under south america
var defs = svg.append("defs");
var topFade = defs.append("linearGradient").attr("id", "topFade")
  .attr("gradientUnits", "userSpaceOnUse").attr("x1", 0).attr("x2", 0).attr("y1", 225).attr("y2", 410);
topFade.append("stop").attr("offset", 0).attr("stop-color", "#fff").attr("stop-opacity", 1);
topFade.append("stop").attr("offset", 1).attr("stop-color", "#fff").attr("stop-opacity", 0);
var lowFade = defs.append("linearGradient").attr("id", "lowFade")
  .attr("gradientUnits", "userSpaceOnUse").attr("x1", 0).attr("x2", 0).attr("y1", 950).attr("y2", 1065);
lowFade.append("stop").attr("offset", 0).attr("stop-color", "#fff").attr("stop-opacity", 0);
lowFade.append("stop").attr("offset", 1).attr("stop-color", "#fff").attr("stop-opacity", 1);

svg.append("rect").attr("x", 0).attr("y", 0).attr("width", width).attr("height", 225).attr("fill", "#fff");
svg.append("rect").attr("x", 0).attr("y", 225).attr("width", width).attr("height", 185).attr("fill", "url(#topFade)");
svg.append("rect").attr("x", 400).attr("y", 950).attr("width", 260).attr("height", 115).attr("fill", "url(#lowFade)");
svg.append("rect").attr("x", 400).attr("y", 1065).attr("width", 260).attr("height", 88).attr("fill", "#fff");

// rules
svg.append("rect").attr("x", 0).attr("y", 1).attr("width", 1600).attr("height", 3).attr("fill", "#000");
svg.append("rect").attr("x", 0).attr("y", 1119).attr("width", 1594).attr("height", 3).attr("fill", "#000");

function addText(x, y, str, cls, size, anchor, spacing) {
  return svg.append("text")
    .attr("x", x).attr("y", y)
    .attr("class", cls)
    .attr("font-size", size)
    .attr("text-anchor", anchor || "start")
    .attr("letter-spacing", spacing || 0)
    .text(str);
}

addText(0, 80, titleText, "b", 60.7);

// legend
svg.append("rect").attr("x", 3).attr("y", 127).attr("width", 21).attr("height", 21).attr("fill", pink);
svg.append("rect").attr("x", 442).attr("y", 127).attr("width", 21).attr("height", 21).attr("fill", red);
addText(38, 148, "Members", "b", 27.6);
addText(474, 148, "Air support", "b", 27.6);
addText(1020, 148, "Other supporters", "b", 27.6);
memberLines.forEach(function(s, i) { addText(38, 187 + i * 30, s, "l", 25.2, "start", -0.42); });
airLines.forEach(function(s, i) { addText(475, 187 + i * 30, s, "l", 25.2, "start", -0.42); });
var otherX = [1020, 1190, 1406];
otherItems.forEach(function(s, i) { addText(otherX[i], 187, "\u2022 " + s, "l", 25.2, "start", -0.42); });

// country labels
var labels = [
  ["Denmark", 820, 452, "end"], ["Netherlands", 798, 488, "end"], ["Britain", 715, 562, "end"],
  ["Belgium", 715, 596, "end"], ["France", 715, 630, "end"], ["Canada", 109, 592, "start"],
  ["U.S.", 180, 656, "start"], ["Jordan", 899, 709, "end"], ["Saudi Arabia", 899, 766, "end"],
  ["Bahrain", 1048, 699, "start"], ["Qatar", 1048, 732, "start"], ["U.A.E.", 1048, 766, "start"],
  ["Australia", 1593, 687, "end"]
];
labels.forEach(function(d) { addText(d[1], d[2], d[0], "b", 25.3, d[3]); });
addText(896, 649, "SYRIA", "b", 25.3, "start", 5.5);

ausLines.forEach(function(s, i) { addText(1593, 717 + i * 29.4, s, "l", 25.2, "end", -0.45); });
noteLines.forEach(function(s, i) { addText(3, 825 + i * 33.8, s, "l", 25, "start", -0.5).attr("font-style", "italic"); });

addText(0, 1102, "Sources: Reuters;  U.S. Department of State", "l", 24.4, "start", -0.58);
addText(0, 1144, "Staff, 08/10/2014", "l", 20.4, "start", -0.36);
addText(1594, 1147, "REUTERS", "b", 17.2, "end");

// leader lines
var leaders = [
  [[816,458],[816,550]], [[793,498],[793,579]], [[726,556],[757,556]], [[726,590],[793,590]],
  [[726,623],[775,623]], [[942,658],[942,680]], [[903,703],[930,703]], [[903,758],[961,758]],
  [[1046,689],[989,689],[989,726]], [[1046,723],[1000,723],[1000,728]], [[1046,758],[1009,758],[1009,740]],
  [[1566,884],[1566,964],[1422,964]]
];
var plain = d3.line();
svg.append("g").selectAll("path")
  .data(leaders)
  .enter().append("path")
  .attr("d", plain)
  .attr("fill", "none")
  .attr("stroke", "#000")
  .attr("stroke-width", 1.8);
svg.append("g").selectAll("circle")
  .data(leaders.filter(function(d, i) { return i != 5; }))
  .enter().append("circle")
  .attr("cx", function(d) { return d[d.length - 1][0]; })
  .attr("cy", function(d) { return d[d.length - 1][1]; })
  .attr("r", 2.8)
  .attr("fill", "#000");

// reuters logo, rings of dots
var logo = svg.append("g").attr("transform", "translate(1497,1140)");
d3.range(5, 14, 1.6).forEach(function(r) {
  var n = Math.round(r * 4);
  logo.selectAll(null)
    .data(d3.range(n))
    .enter().append("circle")
    .attr("cx", function(i) { return r * Math.cos(i / n * 2 * Math.PI); })
    .attr("cy", function(i) { return r * Math.sin(i / n * 2 * Math.PI); })
    .attr("r", r * 0.07 + 0.1)
    .attr("fill", "#222");
});
</script>
</body>
</html>
